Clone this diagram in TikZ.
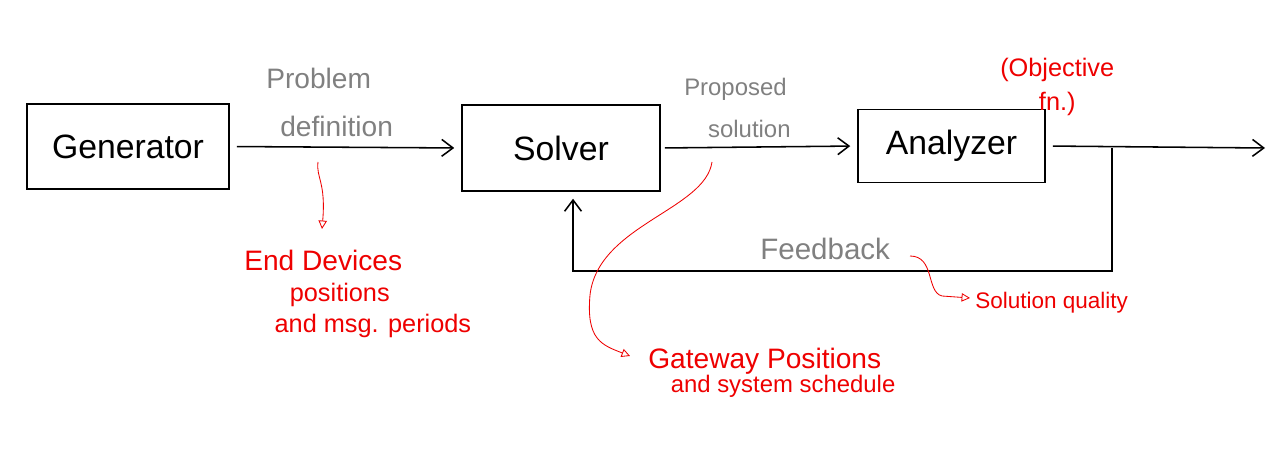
\documentclass[tikz,border=0pt]{standalone}
\usepackage{fontspec}
\setmainfont{Liberation Sans}
\usetikzlibrary{arrows.meta}
\definecolor{penred}{RGB}{238,0,0}
\definecolor{pengray}{RGB}{128,128,128}
\tikzset{
  blk/.style={draw, line width=1pt, inner sep=0pt, font=\fontsize{24}{28}\selectfont},
  flow/.style={-{Straight Barb[length=8pt,width=12pt]}, line width=1.1pt},
  note/.style={penred, line width=0.6pt, -{Triangle[open,length=6pt,width=6pt]}},
  greytxt/.style={pengray, align=left, inner sep=0pt, anchor=north west,
    font=\fontsize{20}{34}\selectfont},
  redtxt/.style={penred, align=left, inner sep=0pt, anchor=north west}
}
\begin{document}
\begin{tikzpicture}[x=0.025cm, y=-0.025cm]
    \useasboundingbox (0,0) rectangle (1288,472);
            \node (gen) [blk, minimum width=5.05cm, minimum height=2.125cm] at (128,146.5) {Generator};
            \node (sol) [blk, minimum width=4.95cm, minimum height=2.15cm] at (561,148) {Solver};
            \node (ana) [blk, minimum width=4.675cm, minimum height=1.825cm] at (951.5,146) {\raisebox{-3pt}{Analyzer}};
            \coordinate (out) at (1265,148);
            \coordinate (fb) at (1112,148);
            \coordinate (back) at (573,271);
    \draw[flow, shorten <=5pt, shorten >=5pt] (gen.east) -- (sol.west);
    \draw[flow, shorten <=3pt, shorten >=5pt] (sol.east) -- (ana.west);
    \draw[flow, shorten <=5pt] (ana.east) -- (out);
    \draw[flow, shorten >=5pt] (fb) |- (back) -- (back |- sol.south);

    % labels on the flow
        \node (pd) [greytxt] at (266,68) {Problem\\\hspace{0.5em}definition};
        \node (ps) [greytxt, font=\fontsize{17}{30}\selectfont] at (684,78) {Proposed\\\hspace{1em}solution};
        \node (fbk) [greytxt, font=\fontsize{21}{25}\selectfont] at (760,238) {Feedback};

    % red notes
        \coordinate (n1) at (318,162);
        \coordinate (n1e) at (322,229);
        \draw[note] (n1) .. controls (316,178) and (326,182) .. (n1e);
        \node (ed) [redtxt, font=\fontsize{18}{22}\selectfont] at (244,250)
            {{\fontsize{20}{22}\selectfont End Devices}\\\hspace{1.8em}positions\\\hspace{1.2em}and msg. periods};
        \coordinate (n2) at (712,162);
        \coordinate (n2e) at (630,356);
        \draw[note] (n2) .. controls (705,210) and (598,225) .. (590,295)
            .. controls (586,340) and (602,345) .. (n2e);
        \node (gw) [redtxt, font=\fontsize{20}{17}\selectfont] at (648,348)
            {Gateway Positions\\\hspace{0.8em}{\fontsize{17}{17}\selectfont and system schedule}};
        \coordinate (n3) at (910,256);
        \coordinate (n3e) at (970,298);
        \draw[note] (n3) .. controls (935,256) and (926,292) .. (942,296) -- (n3e);
        \node (sq) [redtxt, font=\fontsize{16}{20}\selectfont] at (975,292) {Solution quality};
        \node (obj) [redtxt, align=center, font=\fontsize{18}{24}\selectfont] at (1000,58)
            {(Objective\\fn.)};
\end{tikzpicture}
\end{document}
